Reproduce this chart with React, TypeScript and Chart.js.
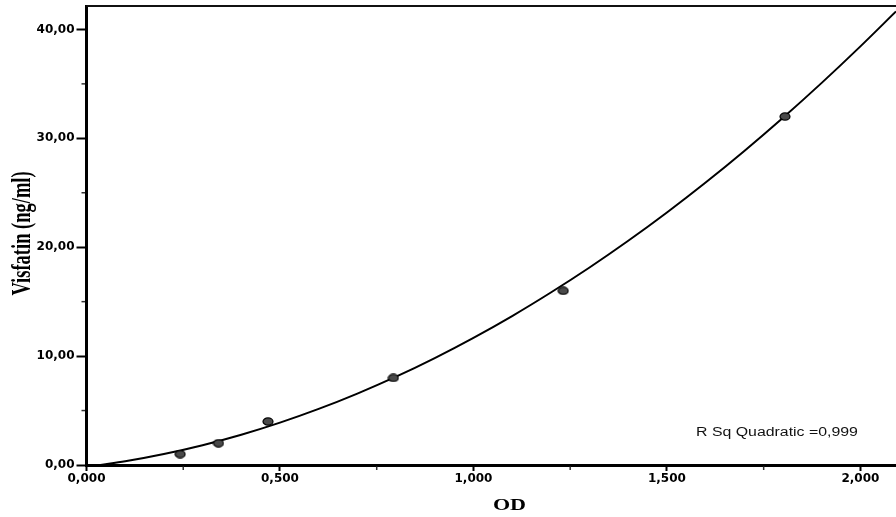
import React, { useEffect, useRef } from "react";
import { Chart, registerables } from "chart.js";

Chart.register(...registerables);

// Standard curve measurements (OD vs concentration)
const standardOD = [0.242, 0.341, 0.469, 0.793, 1.232, 1.805];
const standardConc = [1, 2, 4, 8, 16, 32];

// Quadratic fit line
const fitOD = [0.036, 0.1, 0.2, 0.3, 0.4, 0.5, 0.6, 0.7, 0.8, 0.9, 1.0, 1.1, 1.2, 1.3, 1.4, 1.5, 1.6, 1.7, 1.8, 1.9, 2.0, 2.092];
const fitConc = [0, 0.34, 1.01, 1.82, 2.78, 3.89, 5.15, 6.56, 8.11, 9.82, 11.68, 13.68, 15.84, 18.14, 20.59, 23.19, 25.94, 28.84, 31.89, 35.09, 38.44, 41.65];

const xTicks = [0, 0.5, 1, 1.5, 2];
const xTickLabels = ["0,000", "0,500", "1,000", "1,500", "2,000"];
const yTicks = [0, 10, 20, 30, 40];
const yTickLabels = ["0,00", "10,00", "20,00", "30,00", "40,00"];
const xMinorTicks = [0.25, 0.75, 1.25, 1.75];
const yMinorTicks = [5, 15, 25, 35];

const xTitle = "OD";
const yTitle = "Visfatin (ng/ml)";
const fitNote = "R Sq Quadratic =0,999";

const X_MAX = 2.092;
const Y_MAX = 42.15;

function makeDot(): HTMLCanvasElement {
  const c = document.createElement("canvas");
  c.width = 12;
  c.height = 9;
  const g = c.getContext("2d")!;
  g.beginPath();
  g.ellipse(6, 4.5, 5, 3.6, 0, 0, Math.PI * 2);
  g.fillStyle = "#4a4a4a";
  g.fill();
  g.lineWidth = 1.2;
  g.strokeStyle = "#000";
  g.stroke();
  return c;
}

const decorPlugin = {
  id: "decor",
  afterDraw(chart: any) {
    const { ctx, chartArea: a } = chart;
    const xs = chart.scales.x;
    const ys = chart.scales.y;
    ctx.save();
    // top frame line
    ctx.strokeStyle = "#111";
    ctx.lineWidth = 2;
    ctx.beginPath();
    ctx.moveTo(a.left, a.top);
    ctx.lineTo(a.right, a.top);
    ctx.stroke();
    // minor ticks
    ctx.strokeStyle = "#333";
    ctx.lineWidth = 1.5;
    xMinorTicks.forEach((v) => {
      const px = xs.getPixelForValue(v);
      ctx.beginPath();
      ctx.moveTo(px, a.bottom + 1.5);
      ctx.lineTo(px, a.bottom + 5);
      ctx.stroke();
    });
    yMinorTicks.forEach((v) => {
      const py = ys.getPixelForValue(v);
      ctx.beginPath();
      ctx.moveTo(a.left - 1.5, py);
      ctx.lineTo(a.left - 5, py);
      ctx.stroke();
    });
    // x title
    ctx.fillStyle = "#000";
    ctx.textAlign = "center";
    ctx.textBaseline = "alphabetic";
    ctx.font = 'bold 17px "Liberation Serif"';
    ctx.save();
    ctx.translate(509.5, 510);
    ctx.scale(1.3, 1);
    ctx.fillText(xTitle, 0, 0);
    ctx.restore();
    // y title
    ctx.font = 'bold 18.5px "Liberation Serif"';
    ctx.save();
    ctx.translate(30, 233.5);
    ctx.scale(1.42, 1);
    ctx.rotate(-Math.PI / 2);
    ctx.fillText(yTitle, 0, 0);
    ctx.restore();
    // fit note
    ctx.fillStyle = "#111";
    ctx.textAlign = "left";
    ctx.font = '12.5px "Liberation Sans"';
    ctx.save();
    ctx.translate(696, 435.5);
    ctx.scale(1.27, 1);
    ctx.fillText(fitNote, 0, 0);
    ctx.restore();
    ctx.restore();
  },
};

export default function App() {
  const canvasRef = useRef<HTMLCanvasElement | null>(null);

  useEffect(() => {
    const canvas = canvasRef.current;
    if (!canvas) return;
    const dot = makeDot();
    const tickFont = { family: '"DejaVu Sans"', weight: "bold" as const, size: 12 };
    const chart = new Chart(canvas, {
      type: "scatter",
      data: {
        datasets: [
          {
            type: "scatter",
            label: "Standards",
            data: standardOD.map((x, i) => ({ x, y: standardConc[i] })),
            pointStyle: dot,
            pointRadius: 5,
            pointHoverRadius: 5,
            backgroundColor: "#4a4a4a",
            borderColor: "#000",
            order: 0,
          },
          {
            type: "line",
            label: "Quadratic fit",
            data: fitOD.map((x, i) => ({ x, y: fitConc[i] })),
            borderColor: "#000",
            borderWidth: 2,
            pointRadius: 0,
            fill: false,
            cubicInterpolationMode: "monotone",
            order: 1,
          },
        ],
      },
      options: {
        responsive: false,
        animation: false,
        devicePixelRatio: 1,
        layout: { autoPadding: false, padding: { top: 6, left: 0, right: 0, bottom: 0 } },
        plugins: {
          legend: { display: false },
          tooltip: { enabled: false },
        },
        scales: {
          x: {
            type: "linear",
            position: "bottom",
            min: 0,
            max: X_MAX,
            afterBuildTicks: (s: any) => {
              s.ticks = xTicks.map((v) => ({ value: v }));
            },
            afterFit: (s: any) => {
              s.height = 52;
              s.paddingRight = 0;
              s.paddingLeft = 0;
            },
            grid: {
              display: true,
              drawOnChartArea: false,
              drawTicks: true,
              tickLength: 6,
              tickWidth: 2,
              tickColor: "#000",
            },
            border: { display: true, width: 3, color: "#000" },
            ticks: {
              font: tickFont,
              color: "#000",
              padding: 1,
              maxRotation: 0,
              autoSkip: false,
              callback: (_v: any, i: number) => xTickLabels[i],
            },
          },
          y: {
            type: "linear",
            position: "left",
            min: 0,
            max: Y_MAX,
            afterBuildTicks: (s: any) => {
              s.ticks = yTicks.map((v) => ({ value: v }));
            },
            afterFit: (s: any) => {
              s.width = 86.5;
              s.paddingTop = 0;
              s.paddingBottom = 0;
            },
            grid: {
              display: true,
              drawOnChartArea: false,
              drawTicks: true,
              tickLength: 10,
              tickWidth: 2,
              tickColor: "#000",
            },
            border: { display: true, width: 3, color: "#000" },
            ticks: {
              font: tickFont,
              color: "#000",
              padding: 2,
              autoSkip: false,
              callback: (_v: any, i: number) => yTickLabels[i],
            },
          },
        },
      },
      plugins: [decorPlugin],
    } as any);
    return () => chart.destroy();
  }, []);

  return (
    <div style={{ position: "absolute", left: 0, top: 0, width: 896, height: 517, background: "#fff" }}>
      <canvas ref={canvasRef} width={896} height={517} style={{ display: "block" }} />
    </div>
  );
}
